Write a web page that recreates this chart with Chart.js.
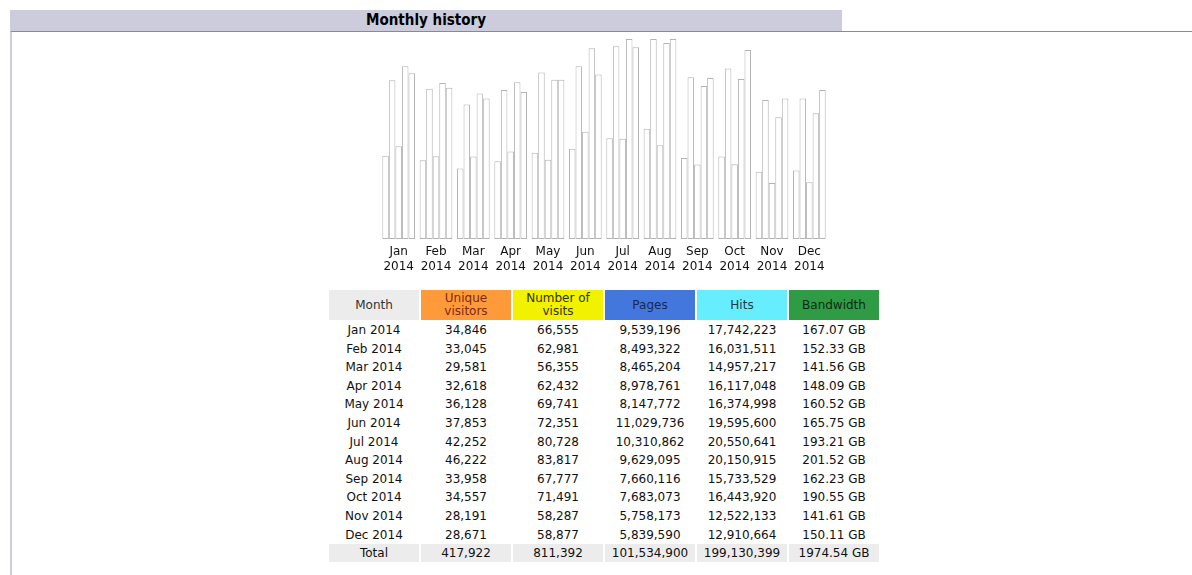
<!DOCTYPE html>
<html>
<head>
<meta charset="utf-8">
<script src="https://cdn.jsdelivr.net/npm/chart.js@4"></script>
<style>
  html, body { margin: 0; padding: 0; background: #fff; }
  body { width: 1192px; height: 575px; position: relative; overflow: hidden; font-family: "DejaVu Sans", Verdana, sans-serif; }
  #title {
    position: absolute; left: 10px; top: 10px; width: 832px; height: 21px;
    background: #ccccdd; text-align: center;
    font: bold 15px "DejaVu Sans Condensed", "DejaVu Sans", sans-serif; line-height: 21px; color: #000;
  }
  #box {
    position: absolute; left: 10px; top: 31px; right: 0; bottom: 0;
    border-top: 1px solid #8a8a8a; border-left: 2px solid #ccccdd;
  }
  #wrap { position: absolute; left: 377px; top: 30px; width: 455px; height: 249px; }
  table { position: absolute; left: 327px; top: 289px; border-collapse: separate; border-spacing: 2px 1px; font-size: 12px; color: #111; }
  td { width: 90px; text-align: center; padding: 2px 0 0 0; height: 15.6px; line-height: 15.6px; white-space: nowrap; }
  th { width: 90px; height: 30px; padding: 0; font-weight: normal; font-size: 12px; line-height: 13px; }
  tr.tot td { background: #ececec; }
</style>
</head>
<body>
<div id="title">Monthly history</div>
<div id="box"></div>
<div id="wrap"><canvas id="cnv"></canvas></div>
<table id="tbl"></table>
<script>
const months = ['Jan', 'Feb', 'Mar', 'Apr', 'May', 'Jun', 'Jul', 'Aug', 'Sep', 'Oct', 'Nov', 'Dec'];
const year = '2014';
const uniqueVisitors = [34846, 33045, 29581, 32618, 36128, 37853, 42252, 46222, 33958, 34557, 28191, 28671];
const visits = [66555, 62981, 56355, 62432, 69741, 72351, 80728, 83817, 67777, 71491, 58287, 58877];
const pages = [9539196, 8493322, 8465204, 8978761, 8147772, 11029736, 10310862, 9629095, 7660116, 7683073, 5758173, 5839590];
const hits = [17742223, 16031511, 14957217, 16117048, 16374998, 19595600, 20550641, 20150915, 15733529, 16443920, 12522133, 12910664];
const bandwidth = [167.07, 152.33, 141.56, 148.09, 160.52, 165.75, 193.21, 201.52, 162.23, 190.55, 141.61, 150.11];
const totals = ['417,922', '811,392', '101,534,900', '199,130,399', '1974.54 GB'];

const headers = [
  { text: 'Month', bg: '#ececec', fg: '#333' },
  { text: 'Unique<br>visitors', bg: '#ff9a3a', fg: '#7a2a10' },
  { text: 'Number of<br>visits', bg: '#f2f200', fg: '#333300' },
  { text: 'Pages', bg: '#4477dd', fg: '#1a2850' },
  { text: 'Hits', bg: '#66eeff', fg: '#1d3a44' },
  { text: 'Bandwidth', bg: '#2f9c45', fg: '#0f2a12' }
];

// table
const fmt = n => n.toLocaleString('en-US');
const tbl = document.getElementById('tbl');
let html = '<tr>' + headers.map(h => `<th style="background:${h.bg};color:${h.fg}">${h.text}</th>`).join('') + '</tr>';
months.forEach((m, i) => {
  html += `<tr><td>${m} ${year}</td><td>${fmt(uniqueVisitors[i])}</td><td>${fmt(visits[i])}</td>` +
          `<td>${fmt(pages[i])}</td><td>${fmt(hits[i])}</td><td>${bandwidth[i].toFixed(2)} GB</td></tr>`;
});
html += '<tr class="tot"><td>Total</td>' + totals.map(t => `<td>${t}</td>`).join('') + '</tr>';
tbl.innerHTML = html;

// chart: visitors+visits share a scale, pages+hits share one, bandwidth its own
const barStyle = { backgroundColor: '#ffffff', borderColor: '#b4b4b4', borderWidth: 1, borderSkipped: false };
const ctx = document.getElementById('cnv').getContext('2d');
new Chart(ctx, {
  type: 'bar',
  data: {
    labels: months.map(m => [m, year]),
    datasets: [
      { label: 'Unique visitors', data: uniqueVisitors, yAxisID: 'yv', ...barStyle },
      { label: 'Number of visits', data: visits, yAxisID: 'yv', ...barStyle },
      { label: 'Pages', data: pages, yAxisID: 'yh', ...barStyle },
      { label: 'Hits', data: hits, yAxisID: 'yh', ...barStyle },
      { label: 'Bandwidth', data: bandwidth, yAxisID: 'yb', ...barStyle }
    ]
  },
  options: {
    responsive: true,
    maintainAspectRatio: false,
    animation: false,
    layout: { padding: { left: 3, right: 4, top: 9, bottom: 0 } },
    datasets: { bar: { barPercentage: 1, categoryPercentage: 0.876 } },
    plugins: { legend: { display: false }, tooltip: { enabled: false } },
    scales: {
      x: {
        grid: { display: false, drawTicks: false },
        border: { display: false },
        ticks: { color: '#111', font: { family: 'DejaVu Sans', size: 12, lineHeight: 1.25 }, padding: 5, maxRotation: 0 }
      },
      yv: { display: false, min: 0, max: Math.max(...visits) },
      yh: { display: false, min: 0, max: Math.max(...hits) },
      yb: { display: false, min: 0, max: Math.max(...bandwidth) }
    }
  }
});
</script>
</body>
</html>
